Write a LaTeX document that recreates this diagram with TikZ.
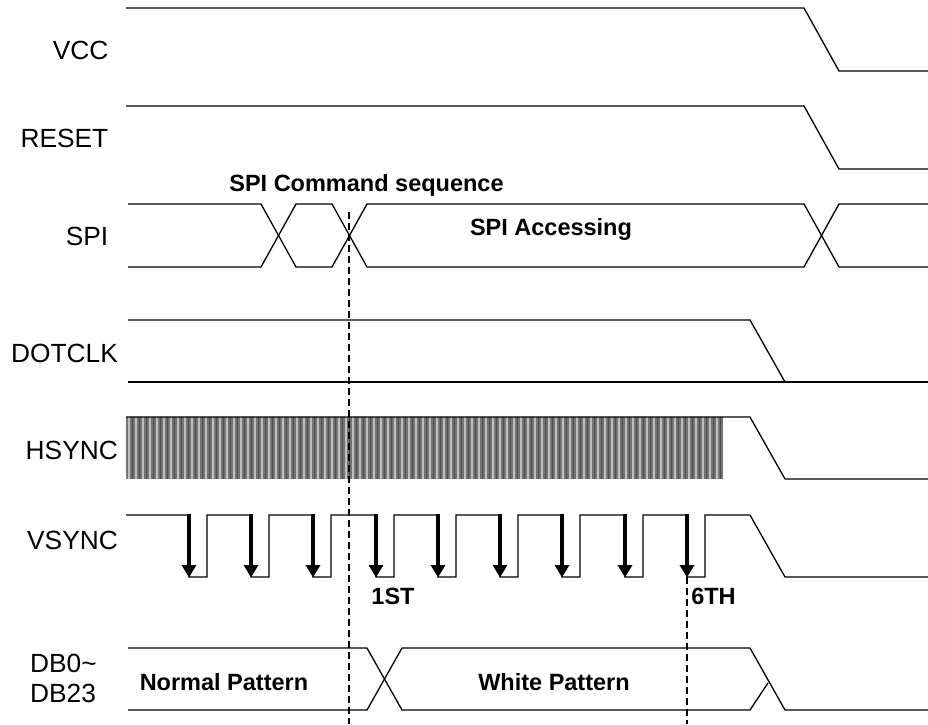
\documentclass[tikz,border=0pt]{standalone}
\usepackage{fontspec}
\setmainfont{Liberation Sans}
\usetikzlibrary{arrows.meta}
\tikzset{
  x=1pt,y=-1pt,
  sig/.style={draw=black,line width=1.3pt,line join=miter},
  guide/.style={draw=black,line width=2.8pt,dash pattern=on 7pt off 4pt},
  strobe/.style={draw=black,line width=3.6pt,-{Triangle[width=14pt,length=12.5pt]},shorten >=-0.5pt},
  siglabel/.style={font=\fontsize{26.3}{30}\selectfont,inner sep=0pt,anchor=east},
  boldlabel/.style={font=\fontsize{23.5}{26}\selectfont\bfseries,inner sep=0pt},
  hatchfill/.style={fill=black!55,draw=none},
  hatchlight/.style={draw=black!25,line width=1.2pt},
  hatchdark/.style={draw=black!70,line width=1.2pt}
}
\begin{document}
\begin{tikzpicture}
\useasboundingbox (0,0) rectangle (928,724);
% guide anchors
\coordinate (g1t) at (349,212); \coordinate (g1b) at (349,724);
\coordinate (g2t) at (687,577); \coordinate (g2b) at (687,724);
% VCC, RESET
\draw[sig] (126,8) -- (804,8) -- (839,71) -- (928,71);
\draw[sig] (126,106) -- (804,106) -- (839,169) -- (928,169);
% SPI
\draw[sig] (128,204) -- (261,204) -- (296,267) -- (332,267) -- (367,204) -- (804,204) -- (839,267) -- (928,267);
\draw[sig] (128,267) -- (261,267) -- (296,204) -- (332,204) -- (367,267) -- (804,267) -- (839,204) -- (928,204);
% DOTCLK
\draw[sig] (128,320) -- (750,320) -- (785,382);
\draw[sig] (128,382) -- (928,382);
% HSYNC
\fill[hatchfill] (126,417) rectangle (723,479);
\foreach \i in {0,...,84} {
  \draw[hatchlight] ({129+\i*7},417) -- ({129+\i*7},479);
  \draw[hatchdark] ({132.5+\i*7},417) -- ({132.5+\i*7},479);
}
\draw[sig] (126,417) -- (750,417) -- (785,479) -- (928,479);
% VSYNC
\draw[sig] (126,515) -- (189,515) -- (189,577) -- (207,577) -- (207,515)
  -- (251,515) -- (251,577) -- (269,577) -- (269,515)
  -- (313,515) -- (313,577) -- (331,577) -- (331,515)
  -- (376,515) -- (376,577) -- (394,577) -- (394,515)
  -- (438,515) -- (438,577) -- (456,577) -- (456,515)
  -- (500,515) -- (500,577) -- (518,577) -- (518,515)
  -- (562,515) -- (562,577) -- (580,577) -- (580,515)
  -- (625,515) -- (625,577) -- (643,577) -- (643,515)
  -- (687,515) -- (687,577) -- (705,577) -- (705,515)
  -- (750,515) -- (785,577) -- (928,577);
\foreach \x in {189,251,313,376,438,500,562,625,687} {\draw[strobe] (\x,514) -- (\x,577);}
% DB
\draw[sig] (128,648) -- (367,648) -- (402,710) -- (750,710) -- (768,683);
\draw[sig] (128,710) -- (367,710) -- (402,648) -- (750,648) -- (785,710) -- (928,710);
% guides
\draw[guide] (g1t) -- (g1b);
\draw[guide] (g2t) -- (g2b);
% labels
\node[siglabel] (vcc) at (108.5,50) {VCC};
\node[siglabel] (reset) at (108.5,138) {RESET};
\node[siglabel] (spi) at (108.5,236) {SPI};
\node[siglabel] (dotclk) at (118,353) {DOTCLK};
\node[siglabel] (hsync) at (118,450) {HSYNC};
\node[siglabel] (vsync) at (118,540) {VSYNC};
\node[siglabel,anchor=west] (db0) at (30,663) {DB0\textasciitilde};
\node[siglabel,anchor=west] (db23) at (30,693) {DB23};
\node[boldlabel] (cmd) at (366.5,185) {SPI Command sequence};
\node[boldlabel] (acc) at (551,229) {SPI Accessing};
\node[boldlabel] (first) at (393,596) {1ST};
\node[boldlabel] (sixth) at (713.5,596) {6TH};
\node[boldlabel] (norm) at (224,682) {Normal Pattern};
\node[boldlabel] (white) at (554,682) {White Pattern};
\end{tikzpicture}
\end{document}
